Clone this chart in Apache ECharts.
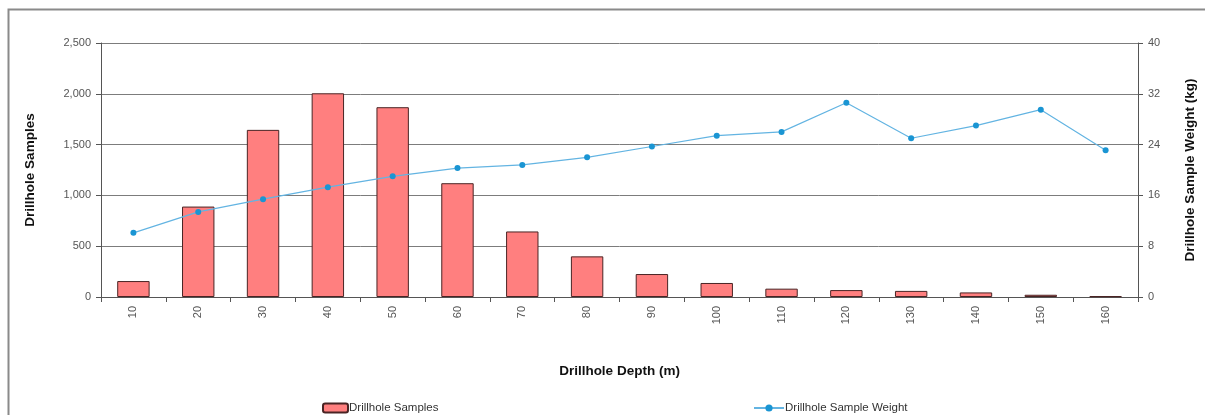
<!DOCTYPE html>
<html>
<head>
<meta charset="utf-8">
<script src="https://cdn.jsdelivr.net/npm/echarts@6/dist/echarts.min.js"></script>
<style>
  html, body { margin: 0; padding: 0; background: #fff; overflow: hidden; width: 1205px; height: 415px; }
  #chart { width: 1205px; height: 415px; }
</style>
</head>
<body>
<div id="chart"></div>
<script>
// Drillhole depth bins (m)
const depths = ['10', '20', '30', '40', '50', '60', '70', '80', '90', '100', '110', '120', '130', '140', '150', '160'];
// Number of samples per depth bin
const sampleCounts = [157, 890, 1645, 2005, 1868, 1120, 645, 400, 226, 138, 82, 68, 60, 45, 22, 8];
// Mean sample weight per depth bin (kg)
const sampleWeights = [10.1, 13.4, 15.4, 17.3, 19.0, 20.3, 20.8, 22.0, 23.7, 25.4, 26.0, 30.6, 25.0, 27.0, 29.5, 23.1];

const FONT = '"Liberation Sans", Arial, sans-serif';
const gridColor = '#7c7c7c';
const tickColor = '#555';

const chart = echarts.init(document.getElementById('chart'), null, { renderer: 'canvas', width: 1205, height: 415 });

chart.setOption({
  animation: false,
  backgroundColor: '#fff',
  textStyle: { fontFamily: FONT },
  graphic: [{
    type: 'rect',
    shape: { x: 8.5, y: 9.5, width: 1400, height: 600 },
    style: { fill: 'none', stroke: '#8a8a8a', lineWidth: 2 },
    silent: true
  }],
  grid: { left: 101, top: 43, width: 1042, height: 254, containLabel: false },
  legend: [{
    data: ['Drillhole Samples'],
    left: 317, top: 397,
    itemWidth: 25, itemHeight: 9, itemGap: 2,
    textStyle: { fontSize: 11.5, color: '#333', fontFamily: FONT, padding: [0, 0, 0, -4] }
  }, {
    data: ['Drillhole Sample Weight'],
    left: 748, top: 397,
    itemWidth: 30, itemHeight: 9,
    textStyle: { fontSize: 11.5, color: '#333', fontFamily: FONT, padding: [0, 0, 0, -4] }
  }],
  xAxis: {
    type: 'category',
    data: depths,
    boundaryGap: true,
    name: 'Drillhole Depth (m)',
    nameLocation: 'middle',
    nameGap: 67,
    nameTextStyle: { fontSize: 13.5, fontWeight: 'bold', color: '#111', fontFamily: FONT },
    axisLine: { lineStyle: { color: tickColor, width: 1 } },
    axisTick: { show: true, alignWithLabel: false, length: 5, lineStyle: { color: tickColor } },
    axisLabel: { rotate: 90, fontSize: 11, color: '#555', margin: 9, fontFamily: FONT },
    splitLine: { show: false }
  },
  yAxis: [{
    type: 'value',
    min: 0, max: 2500, interval: 500,
    name: 'Drillhole Samples',
    nameLocation: 'middle',
    nameRotate: 90,
    nameGap: 64,
    nameTextStyle: { fontSize: 13.5, fontWeight: 'bold', color: '#111', fontFamily: FONT },
    axisLine: { show: true, lineStyle: { color: tickColor } },
    axisTick: { show: true, length: 5, lineStyle: { color: tickColor } },
    axisLabel: {
      fontSize: 11, color: '#555', margin: 10, fontFamily: FONT,
      formatter: v => v.toLocaleString('en-US')
    },
    splitLine: { show: true, lineStyle: { color: gridColor, width: 1 } }
  }, {
    type: 'value',
    min: 0, max: 40, interval: 8,
    name: 'Drillhole Sample Weight (kg)',
    nameLocation: 'middle',
    nameRotate: 90,
    nameGap: 45,
    nameTextStyle: { fontSize: 13.5, fontWeight: 'bold', color: '#111', fontFamily: FONT },
    axisLine: { show: true, lineStyle: { color: tickColor } },
    axisTick: { show: true, length: 5, lineStyle: { color: tickColor } },
    axisLabel: { fontSize: 11, color: '#555', margin: 10, fontFamily: FONT },
    splitLine: { show: false }
  }],
  series: [{
    name: 'Drillhole Samples',
    type: 'bar',
    yAxisIndex: 0,
    data: sampleCounts,
    barWidth: '50%',
    itemStyle: { color: '#ff7f7f', borderColor: '#4a2424', borderWidth: 1 }
  }, {
    name: 'Drillhole Sample Weight',
    type: 'line',
    yAxisIndex: 1,
    data: sampleWeights,
    symbol: 'circle',
    symbolSize: 6,
    lineStyle: { color: '#63b4e2', width: 1.2 },
    itemStyle: { color: '#1a95d3' }
  }]
});
</script>
</body>
</html>
